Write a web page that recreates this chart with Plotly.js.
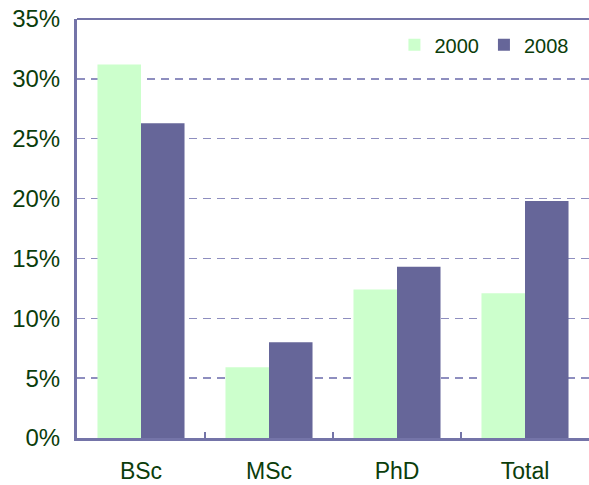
<!DOCTYPE html>
<html>
<head>
<meta charset="utf-8">
<script src="https://cdn.plot.ly/plotly-3.0.1.min.js"></script>
<style>html,body{margin:0;padding:0;background:#fff;}#chart{width:589px;height:485px;}</style>
</head>
<body>
<div id="chart"></div>
<script>
var categories = ["BSc", "MSc", "PhD", "Total"];
var values2000 = [0.312, 0.059, 0.124, 0.121];
var values2008 = [0.263, 0.080, 0.143, 0.198];
var seriesNames = ["2000", "2008"];
var yTickVals = [0, 0.05, 0.10, 0.15, 0.20, 0.25, 0.30, 0.35];

var textColor = "#0b3d0b";
var axisColor = "#7474a8";
var gridColor = "#8e8ebf";

var traces = [
  {type: "bar", name: seriesNames[0], x: categories, y: values2000,
   marker: {color: "#ccffcc", line: {width: 0}}},
  {type: "bar", name: seriesNames[1], x: categories, y: values2008,
   marker: {color: "#666699", line: {width: 0}}}
];

var layout = {
  width: 589, height: 485,
  margin: {l: 77, r: 0, t: 19, b: 47},
  paper_bgcolor: "#ffffff", plot_bgcolor: "#ffffff",
  barmode: "group", bargap: 0.32, bargroupgap: 0,
  font: {family: "Liberation Sans, Arial, sans-serif", color: textColor},
  showlegend: true,
  legend: {orientation: "h", x: 0.62, y: 0.985, xanchor: "left", yanchor: "top",
           font: {size: 20, color: textColor}, bgcolor: "rgba(0,0,0,0)", itemwidth: 30},
  xaxis: {type: "category", showline: true, linecolor: axisColor, linewidth: 3,
          ticks: "inside", tickson: "boundaries", ticklen: 6, tickcolor: axisColor, tickwidth: 1.5,
          tickfont: {size: 23, color: textColor}, ticklabelstandoff: 10,
          showgrid: false, zeroline: false},
  yaxis: {range: [0, 0.35], tickvals: yTickVals, tickformat: ".0%",
          showline: true, linecolor: axisColor, linewidth: 3,
          ticks: "", tickfont: {size: 24, color: textColor}, ticklabelstandoff: 9,
          showgrid: true, gridcolor: gridColor, griddash: "8px,6px", gridwidth: 1.5,
          zeroline: false, automargin: false},
  shapes: [{type: "line", xref: "paper", yref: "paper", x0: 0, x1: 1, y0: 1, y1: 1,
            line: {color: axisColor, width: 2}}]
};

Plotly.newPlot("chart", traces, layout, {displayModeBar: false, staticPlot: true});
</script>
</body>
</html>
